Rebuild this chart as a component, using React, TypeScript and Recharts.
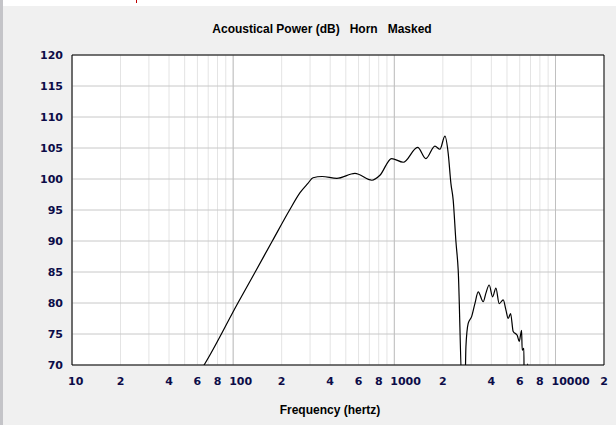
import React from 'react'
import {
  LineChart,
  Line,
  XAxis,
  YAxis,
  CartesianGrid,
  ReferenceLine
} from 'recharts'

// Acoustical power response (dB), frequency in Hz
const freqs = [
  60, 66, 107, 137, 175, 224, 260, 291, 313, 356, 440, 570, 726, 814,
  962, 1136, 1395, 1570, 1786, 1918, 2060, 2160, 2244, 2319, 2410, 2491,
  2638, 2742, 2781, 2873, 3017, 3162, 3315, 3560, 3700, 3878, 4072, 4269,
  4474, 4738, 4924, 5088, 5266, 5465, 5786, 5954, 6162, 6215, 6368, 6390,
  6600, 6714, 6800
]
const powerDb = [
  68.3, 70, 80, 85, 90, 95, 97.8, 99.3, 100.2, 100.4, 100.1, 100.9, 99.8, 100.6,
  103.3, 102.7, 105.1, 103.3, 105.3, 104.8, 106.9, 104.1, 99.3, 96.6, 90, 85.3,
  66, 66, 72.9, 76.7, 77.8, 79.9, 81.8, 80.2, 81.6, 82.9, 81.0, 82.4,
  79.9, 80.5, 78.9, 77.5, 78.3, 75.4, 74.8, 73.8, 75.6, 72.4, 72.7, 66,
  66, 70.2, 66
]

// axis ticks and labels
const yTicks = [70, 75, 80, 85, 90, 95, 100, 105, 110, 115, 120]
const gridFreqs = [
  10, 20, 30, 40, 50, 60, 70, 80, 90,
  100, 200, 300, 400, 500, 600, 700, 800, 900,
  1000, 2000, 3000, 4000, 5000, 6000, 7000, 8000, 9000,
  10000, 20000
]
const decadeFreqs = [10, 100, 1000, 10000]
const labelFreqs = [10, 20, 40, 60, 80, 100, 200, 400, 600, 800, 1000, 2000, 4000, 6000, 8000, 10000, 20000]
const labelTexts = ['10', '2', '4', '6', '8', '100', '2', '4', '6', '8', '1000', '2', '4', '6', '8', '10000', '2']

const chartData = freqs.map((f, i) => ({ freq: f, db: powerDb[i] }))

const tickFont = 'DejaVu Sans, sans-serif'
const tickColor = '#0c0c48'

const XTick = ({ x, y, payload }: any) => {
  const idx = labelFreqs.indexOf(payload.value)
  if (idx < 0) return null
  const isDecade = decadeFreqs.includes(payload.value)
  return (
    <text
      x={isDecade ? x - 4 : x}
      y={y + 20}
      textAnchor={isDecade ? 'start' : 'middle'}
      fontFamily={tickFont}
      fontWeight="bold"
      fontSize={11}
      fill={tickColor}
    >
      {labelTexts[idx]}
    </text>
  )
}

const YTick = ({ x, y, payload }: any) => (
  <text
    x={x - 9}
    y={y + 4}
    textAnchor="end"
    fontFamily={tickFont}
    fontWeight="bold"
    fontSize={11}
    fill={tickColor}
  >
    {payload.value}
  </text>
)

export default function App() {
  return (
    <div
      style={{
        position: 'absolute',
        left: 0,
        top: 0,
        width: 616,
        height: 425,
        background: '#f0f0f0',
        overflow: 'hidden'
      }}
    >
      {/* window chrome */}
      <div style={{ position: 'absolute', left: 0, top: 0, width: 616, height: 6, background: '#ffffff' }} />
      <div style={{ position: 'absolute', left: 136, top: 0, width: 1, height: 3, background: '#c00000' }} />
      <div style={{ position: 'absolute', left: 0, top: 0, width: 3, height: 425, background: '#c4c4c8' }} />

      <div
        style={{
          position: 'absolute',
          left: 0,
          width: 644,
          top: 22,
          textAlign: 'center',
          fontFamily: 'Liberation Sans, Arial, sans-serif',
          fontWeight: 'bold',
          fontSize: 12,
          whiteSpace: 'pre',
          color: '#000'
        }}
      >
        {'Acoustical Power (dB)   Horn   Masked'}
      </div>

      <div style={{ position: 'absolute', left: 0, top: 0 }}>
        <LineChart
          width={616}
          height={425}
          data={chartData}
          margin={{ top: 55, right: 12, left: 0, bottom: 0 }}
        >
          <CartesianGrid
            fill="#ffffff"
            stroke="#e4e4e4"
            horizontal={false}
            vertical={true}
          />
          <CartesianGrid stroke="#c8c8c8" horizontal={true} vertical={false} />
          {decadeFreqs.map(f => (
            <ReferenceLine key={f} x={f} stroke="#c0c0c0" />
          ))}
          <XAxis
            dataKey="freq"
            type="number"
            scale="log"
            domain={[10, 20000]}
            ticks={gridFreqs}
            allowDataOverflow
            interval={0}
            height={60}
            tickLine={false}
            tickSize={0}
            tickMargin={0}
            axisLine={{ stroke: '#000' }}
            tick={<XTick />}
          />
          <YAxis
            type="number"
            domain={[70, 120]}
            ticks={yTicks}
            allowDataOverflow
            interval={0}
            width={72}
            tickLine={false}
            tickSize={0}
            tickMargin={0}
            axisLine={{ stroke: '#000' }}
            tick={<YTick />}
          />
          <ReferenceLine y={120} stroke="#000" />
          <ReferenceLine x={20000} stroke="#000" />
          <Line
            type="monotone"
            dataKey="db"
            stroke="#000"
            strokeWidth={1.2}
            dot={false}
            isAnimationActive={false}
          />
        </LineChart>
      </div>

      <div
        style={{
          position: 'absolute',
          left: 0,
          width: 660,
          top: 403,
          textAlign: 'center',
          fontFamily: 'Liberation Sans, Arial, sans-serif',
          fontWeight: 'bold',
          fontSize: 12,
          color: '#000'
        }}
      >
        Frequency (hertz)
      </div>
    </div>
  )
}
